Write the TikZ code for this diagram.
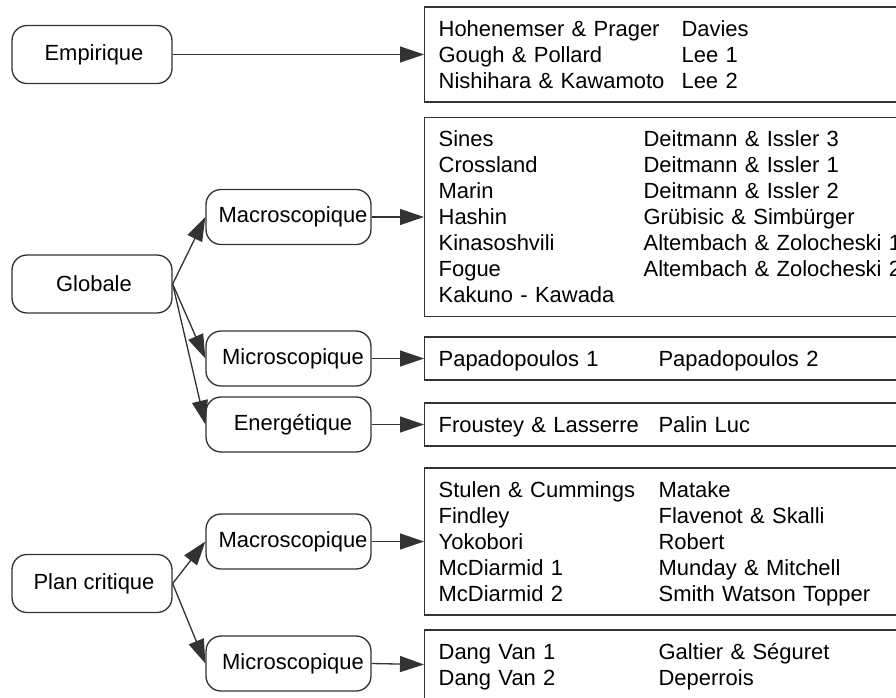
\documentclass[tikz,border=0pt]{standalone}
\usepackage{fontspec}
\setmainfont{Liberation Sans}
\usetikzlibrary{arrows.meta}
\newcommand{\critlist}[2]{\begin{tabular}{@{}p{#1}@{}l@{}}\rule{0pt}{13.4pt}#2\end{tabular}}

\begin{document}
\begin{tikzpicture}[x=0.02cm, y=-0.02cm, line width=0.75pt,
        every node/.style={font=\fontsize{12.5}{14.8}\selectfont},
        method/.style={draw=black!80, rounded corners=0.3cm, minimum height=1.16cm, minimum width=3.2cm,
            execute at begin node={\hspace*{0.08cm}}},
        family/.style={draw=black!80, rounded corners=0.3cm, minimum height=1.1cm, minimum width=3.3cm,
            inner xsep=0.04cm, execute at begin node={\hspace*{0.18cm}}},
        listbox/.style={draw=black!80, anchor=west, inner xsep=0.28cm, inner ysep=0pt,
            text width=9.5cm, align=left},
        link/.style={draw=black!80, -{Triangle[length=0.48cm,width=0.32cm]}}]
        \useasboundingbox (0,0) rectangle (896,697);

        % approches
        \node (empirique) [method] at (92,54.5) {Empirique};
        \node (globale) [method] at (92,284) {Globale};
        \node (plancrit) [method] at (92,583.5) {Plan critique};

        % familles
        \node (gmacro) [family] at (288.5,217) {Macroscopique};
        \node (gmicro) [family] at (288.5,358.5) {Microscopique};
        \node (genergie) [family] at (288.5,424.5) {Energ\'etique};
        \node (pmacro) [family] at (288.5,541.5) {Macroscopique};
        \node (pmicro) [family] at (288.5,663.5) {Microscopique};

        % listes de criteres
        \node (lempirique) [listbox, minimum height=1.9cm] at (424,54.5)
            {\critlist{4.86cm}{Hohenemser \& Prager & Davies\\
             Gough \& Pollard & Lee 1\\
             Nishihara \& Kawamoto & Lee 2}};
        \node (lgmacro) [listbox, minimum height=3.98cm] at (424,217)
            {\critlist{4.1cm}{Sines & Deitmann \& Issler 3\\
             Crossland & Deitmann \& Issler 1\\
             Marin & Deitmann \& Issler 2\\
             Hashin & Gr\"ubisic \& Simb\"urger\\
             Kinasoshvili & Altembach \& Zolocheski 1\\
             Fogue & Altembach \& Zolocheski 2\\
             Kakuno - Kawada & }};
        \node (lgmicro) [listbox, minimum height=0.86cm] at (424,358.5)
            {\critlist{4.4cm}{Papadopoulos 1 & Papadopoulos 2}};
        \node (lgenergie) [listbox, minimum height=0.86cm] at (424,424.5)
            {\critlist{4.4cm}{Froustey \& Lasserre & Palin Luc}};
        \node (lpmacro) [listbox, minimum height=2.94cm] at (424,541.5)
            {\critlist{4.4cm}{Stulen \& Cummings & Matake\\
             Findley & Flavenot \& Skalli\\
             Yokobori & Robert\\
             McDiarmid 1 & Munday \& Mitchell\\
             McDiarmid 2 & Smith Watson Topper}};
        \node (lpmicro) [listbox, minimum height=1.38cm] at (424,664.5)
            {\critlist{4.4cm}{Dang Van 1 & Galtier \& S\'eguret\\
             Dang Van 2 & Deperrois}};

        \draw [link] (empirique.east) -- (lempirique.west);

        \draw [link] (globale.east) -- (gmacro.west);
        \draw [link] (globale.east) -- (gmicro.west);
        \draw [link] (globale.east) -- (genergie.west);
        \draw [link] (plancrit.east) -- (pmacro.west);
        \draw [link] (plancrit.east) -- (pmicro.west);

        \draw [link] (gmacro.east) -- (lgmacro.west);
        \draw [link] (gmicro.east) -- (lgmicro.west);
        \draw [link] (genergie.east) -- (lgenergie.west);
        \draw [link] (pmacro.east) -- (lpmacro.west);
        \draw [link] (pmicro.east) -- (lpmicro.west);

    \end{tikzpicture}
\end{document}
